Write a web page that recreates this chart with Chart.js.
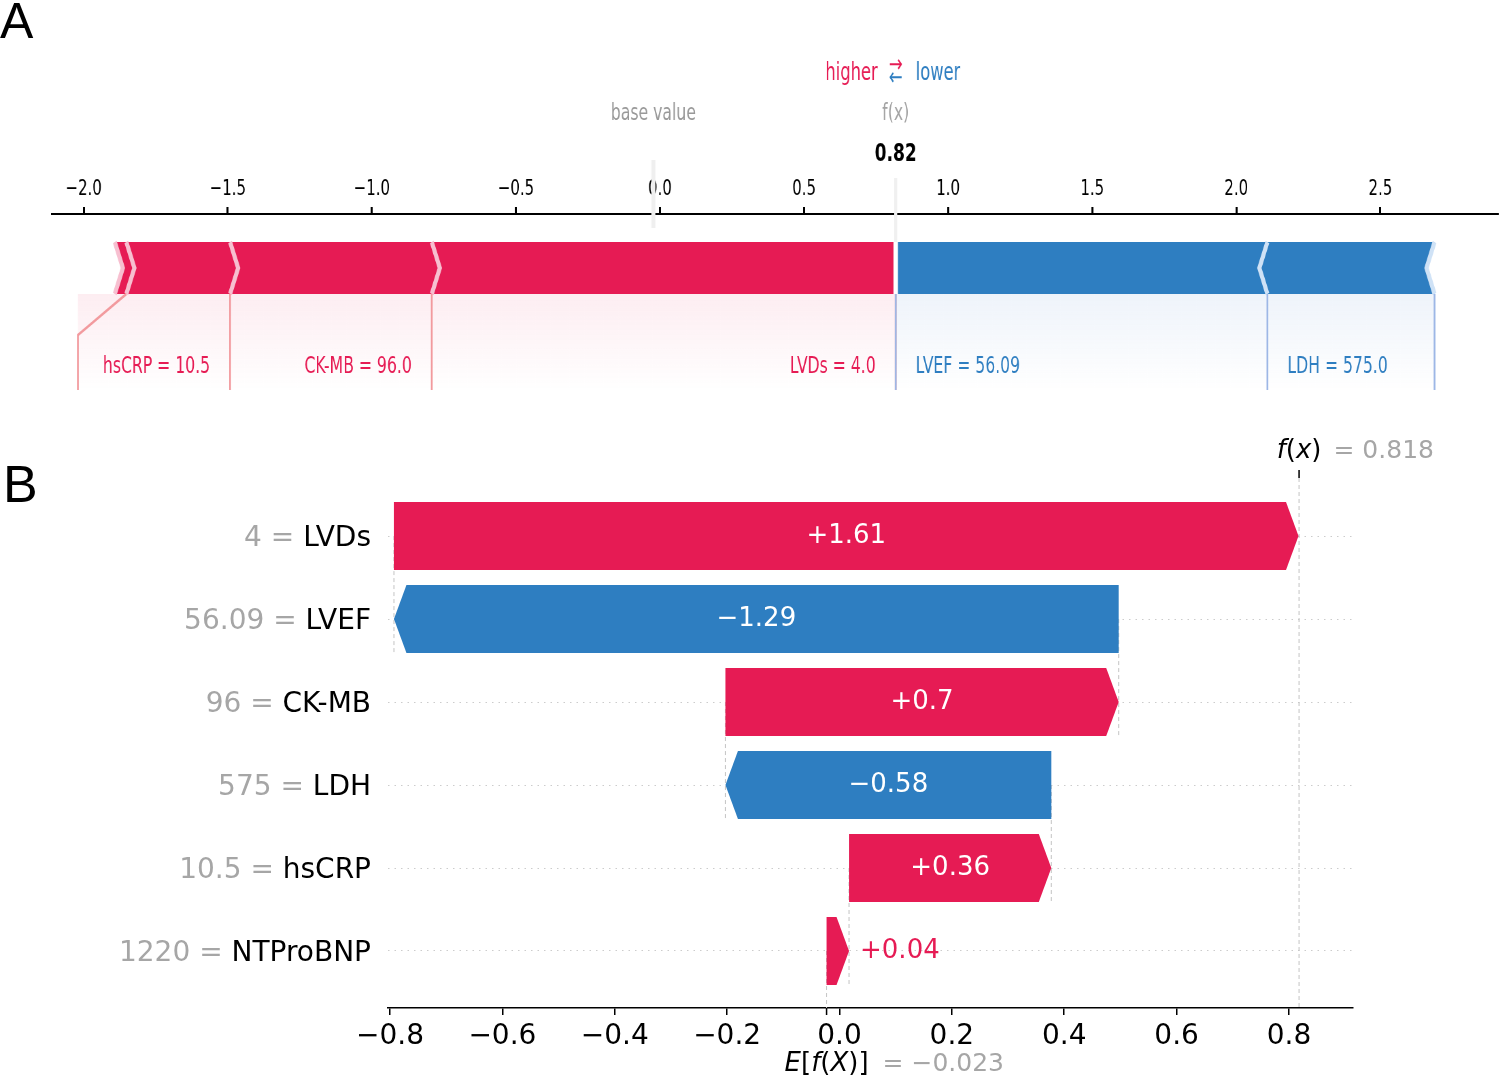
<!DOCTYPE html>
<html>
<head>
<meta charset="utf-8">
<script src="https://cdn.jsdelivr.net/npm/chart.js@4.4.1/dist/chart.umd.min.js"></script>
<style>
  body { margin: 0; background: #fff; width: 1500px; height: 1076px; overflow: hidden; position: relative; }
  #panelA { position: absolute; left: 0; top: 0; width: 2206px; height: 410px; transform: scaleX(0.68); transform-origin: 0 0; }
  #panelB { position: absolute; left: 0; top: 420px; width: 1500px; height: 656px; }
  .letter { position: absolute; font-family: "Liberation Sans", Arial, sans-serif; line-height: 1; color: #000; }
</style>
</head>
<body>
<div id="panelA"><canvas id="forceChart" width="2206" height="410"></canvas></div>
<div id="panelB"><canvas id="waterfallChart" width="1500" height="656"></canvas></div>
<div class="letter" style="left:0px;top:-4px;font-size:50px">A</div>
<div class="letter" style="left:3px;top:458px;font-size:52px">B</div>

<script>
// ---- data ----
const features = ['LVDs', 'LVEF', 'CK-MB', 'LDH', 'hsCRP', 'NTProBNP'];
const featureValues = ['4', '56.09', '96', '575', '10.5', '1220'];
const forceValueLabels = ['4.0', '56.09', '96.0', '575.0', '10.5', '1220.0'];
const shapValues = [1.61, -1.29, 0.7, -0.58, 0.36, 0.04];
const baseValue = -0.023;
const outputValue = 0.818;

const forceTicks = [-2.0, -1.5, -1.0, -0.5, 0.0, 0.5, 1.0, 1.5, 2.0, 2.5];
const forceRange = [-2.111, 2.906];
const waterfallTicks = [-0.8, -0.6, -0.4, -0.2, 0.0, 0.2, 0.4, 0.6, 0.8];
const waterfallRange = [-0.8036, 0.914];

// ---- style ----
const RED = '#e61b54';
const BLUE = '#2e7ec1';
const RED_SEP = '#f7bfd0';
const BLUE_SEP = '#cfe2f6';
const GRAY = '#a6a6a6';
const SQUEEZE = 0.68;          // panel A is drawn wide, then squeezed
const px = v => v / SQUEEZE;   // final pixels -> wide pixels
const FONT = '"DejaVu Sans"';
Chart.defaults.font.family = 'DejaVu Sans';

const minus = s => s.replace('-', '\u2212');
const fmtTick = v => minus(Number(v).toFixed(1));

function poly(ctx, pts) {
  ctx.beginPath();
  pts.forEach((p, k) => k ? ctx.lineTo(p[0], p[1]) : ctx.moveTo(p[0], p[1]));
  ctx.closePath();
}

function mathText(ctx, parts, cx, cy, size, color) {
  const fonts = parts.map(p => (p[1] ? 'italic ' : '') + size + 'px ' + FONT);
  let total = 0;
  const widths = parts.map((p, k) => { ctx.font = fonts[k]; const w = ctx.measureText(p[0]).width; total += w; return w; });
  let xx = cx - total / 2;
  ctx.fillStyle = color;
  ctx.textAlign = 'left';
  ctx.textBaseline = 'middle';
  parts.forEach((p, k) => { ctx.font = fonts[k]; ctx.fillText(p[0], xx, cy); xx += widths[k]; });
  return cx + total / 2;
}

// ---- panel A: force plot ----
const SEP_INDENT = 0.028;
const LABEL_MIN = 0.1;

const forcePlugin = {
  id: 'forceBars',
  afterDraw(chart) {
    const { ctx, scales: { x, y } } = chart;
    const X = v => x.getPixelForValue(v);
    const Y = v => y.getPixelForValue(v);
    const fx = X(outputValue);
    const barTop = 28, barBot = 80, barMid = 54, slant = 41, lineEnd = 176, textY = 153;

    const pos = [], neg = [];
    shapValues.forEach((v, i) => (v > 0 ? pos : neg).push(i));
    pos.sort((a, b) => shapValues[b] - shapValues[a]);
    neg.sort((a, b) => shapValues[a] - shapValues[b]);

    ctx.save();
    ctx.font = '23px ' + FONT;

    function layout(list, sign) {
      let pre = outputValue, preB = fx;
      return list.map(i => {
        const v = Math.abs(shapValues[i]);
        const item = { i, start: pre, end: pre - sign * v };
        pre = item.end;
        if (v >= LABEL_MIN) {
          const text = features[i] + ' = ' + forceValueLabels[i];
          const w = ctx.measureText(text).width;
          if (sign > 0) { item.tx = preB - px(20); item.bound = Math.min(X(item.end), item.tx - w - px(25)); }
          else { item.tx = preB + px(20); item.bound = Math.max(X(item.end), item.tx + w + px(25)); }
          item.text = text;
          preB = item.bound;
        }
        return item;
      });
    }

    const groups = [
      { items: layout(pos, 1), sign: 1, color: RED, sep: RED_SEP, line: '#f29a9e', fill: 'rgba(230,27,84,0.08)', fill0: 'rgba(230,27,84,0)' },
      { items: layout(neg, -1), sign: -1, color: BLUE, sep: BLUE_SEP, line: '#9db7e6', fill: 'rgba(46,110,200,0.08)', fill0: 'rgba(46,110,200,0)' }
    ];

    groups.forEach(g => {
      const bounds = g.items.filter(it => it.text).map(it => it.bound);
      const far = g.sign > 0 ? Math.min(...bounds) : Math.max(...bounds);
      // soft fill under the bars
      const grad = ctx.createLinearGradient(0, Y(barBot), 0, Y(lineEnd));
      grad.addColorStop(0, g.fill);
      grad.addColorStop(1, g.fill0);
      ctx.fillStyle = grad;
      ctx.fillRect(Math.min(far, fx), Y(barBot), Math.abs(fx - far), Y(lineEnd) - Y(barBot));

      // chevron bars
      g.items.forEach((it, k) => {
        const L = Math.min(it.start, it.end), R = Math.max(it.start, it.end);
        const ind = g.sign * SEP_INDENT;
        let pts;
        if (k === 0) {
          pts = g.sign > 0
            ? [[L, barTop], [R, barTop], [R, barBot], [L, barBot], [L + ind, barMid]]
            : [[R, barTop], [L, barTop], [L, barBot], [R, barBot], [R + ind, barMid]];
        } else {
          pts = [[L, barTop], [R, barTop], [R + ind * 0.9, barMid], [R, barBot], [L, barBot], [L + ind * 0.9, barMid]];
        }
        poly(ctx, pts.map(p => [X(p[0]), Y(p[1])]));
        ctx.fillStyle = g.color;
        ctx.fill();
      });
      g.items.forEach(it => {
        const sp = g.sign > 0 ? Math.min(it.start, it.end) : Math.max(it.start, it.end);
        const ind = g.sign * SEP_INDENT;
        ctx.beginPath();
        ctx.moveTo(X(sp), Y(barTop));
        ctx.lineTo(X(sp + ind), Y(barMid));
        ctx.lineTo(X(sp), Y(barBot));
        ctx.strokeStyle = g.sep;
        ctx.lineWidth = px(4);
        ctx.stroke();
      });

      // label leader lines and labels
      ctx.strokeStyle = g.line;
      ctx.lineWidth = px(1.8);
      ctx.beginPath();
      ctx.moveTo(fx, Y(barBot));
      ctx.lineTo(fx, Y(lineEnd));
      ctx.stroke();
      g.items.filter(it => it.text).forEach(it => {
        const bx = X(it.end);
        ctx.beginPath();
        ctx.moveTo(bx, Y(barBot));
        if (Math.abs(bx - it.bound) > 1) ctx.lineTo(it.bound, Y(barBot + slant));
        ctx.lineTo(it.bound, Y(lineEnd));
        ctx.stroke();
        ctx.fillStyle = g.color;
        ctx.font = '23px ' + FONT;
        ctx.textBaseline = 'middle';
        ctx.textAlign = g.sign > 0 ? 'right' : 'left';
        ctx.fillText(it.text, it.tx, Y(textY));
      });
    });

    // f(x) separator and base value marker
    ctx.strokeStyle = '#f0f0f0';
    ctx.lineWidth = px(3);
    ctx.beginPath(); ctx.moveTo(fx, Y(-36)); ctx.lineTo(fx, Y(barTop)); ctx.stroke();
    ctx.strokeStyle = '#ffffff';
    ctx.lineWidth = px(4.5);
    ctx.beginPath(); ctx.moveTo(fx, Y(barTop)); ctx.lineTo(fx, Y(barBot)); ctx.stroke();
    ctx.strokeStyle = '#efefef';
    ctx.lineWidth = px(4);
    ctx.beginPath(); ctx.moveTo(X(baseValue), Y(-54)); ctx.lineTo(X(baseValue), Y(14)); ctx.stroke();

    // header texts
    ctx.textBaseline = 'middle';
    ctx.textAlign = 'center';
    ctx.font = '23px ' + FONT;
    ctx.fillStyle = '#999999';
    ctx.fillText('base value', X(baseValue), Y(-100));
    ctx.fillStyle = '#a3a3a3';
    ctx.fillText('f(x)', fx, Y(-100));
    ctx.font = 'bold 25px ' + FONT;
    ctx.fillStyle = '#000';
    ctx.fillText(outputValue.toFixed(2), fx, Y(-60));
    ctx.font = '24px ' + FONT;
    ctx.textAlign = 'right';
    ctx.fillStyle = RED;
    ctx.fillText('higher', fx - px(18), Y(-140));
    ctx.textAlign = 'left';
    ctx.fillStyle = BLUE;
    ctx.fillText('lower', fx + px(20), Y(-140));
    ctx.textAlign = 'center';
    ctx.font = '24px ' + FONT;
    ctx.fillStyle = RED;
    ctx.fillText('\u2192', fx, Y(-148));
    ctx.fillStyle = BLUE;
    ctx.fillText('\u2190', fx, Y(-135));
    ctx.restore();
  }
};

new Chart(document.getElementById('forceChart'), {
  type: 'scatter',
  data: { datasets: [] },
  options: {
    responsive: false,
    animation: false,
    layout: { padding: { left: 76, right: 4, top: 170, bottom: 10 } },
    plugins: { legend: { display: false }, tooltip: { enabled: false } },
    scales: {
      x: {
        type: 'linear',
        position: 'top',
        min: forceRange[0],
        max: forceRange[1],
        afterBuildTicks: s => { s.ticks = forceTicks.map(v => ({ value: v })); },
        afterFit: s => { s.height = 44; },
        ticks: { callback: fmtTick, font: { size: 22 }, color: '#000', padding: 5, maxRotation: 0, autoSkip: false },
        grid: { drawOnChartArea: false, drawTicks: true, tickLength: 7, color: '#000', lineWidth: 3 },
        border: { display: true, color: '#000', width: 2 }
      },
      y: { display: false, min: 0, max: 186, reverse: true }
    }
  },
  plugins: [forcePlugin]
});

// ---- panel B: waterfall ----
const BAR_HALF = 0.41;
const HEAD_PX = 12.5;
const LABEL_SHIFT = 3;

const waterfallPlugin = {
  id: 'waterfallBars',
  afterDatasetsDraw(chart) {
    const { ctx, chartArea: area, scales: { x, y } } = chart;
    const X = v => x.getPixelForValue(v);
    const Y = v => y.getPixelForValue(v);
    const n = features.length;
    const starts = [], ends = [];
    let cum = baseValue;
    for (let i = n - 1; i >= 0; i--) { starts[i] = cum; cum += shapValues[i]; ends[i] = cum; }

    ctx.save();
    const seg = (x1, y1, x2, y2) => { ctx.beginPath(); ctx.moveTo(x1, y1); ctx.lineTo(x2, y2); ctx.stroke(); };
    ctx.strokeStyle = '#c4c4c4';
    ctx.lineWidth = 1;
    ctx.setLineDash([4, 3]);
    seg(X(outputValue), area.top, X(outputValue), area.bottom);
    seg(X(baseValue), Y(n - 1), X(baseValue), area.bottom);
    for (let i = 0; i < n - 1; i++) seg(X(starts[i]), Y(i), X(starts[i]), Y(i + 1 + BAR_HALF));
    ctx.setLineDash([]);

    for (let i = 0; i < n; i++) {
      const s = X(starts[i]), e = X(ends[i]);
      const dir = Math.sign(e - s), w = Math.abs(e - s);
      const hl = Math.min(HEAD_PX, w);
      const top = Y(i - BAR_HALF), bot = Y(i + BAR_HALF), mid = Y(i);
      const color = shapValues[i] > 0 ? RED : BLUE;
      poly(ctx, [[s, top], [e - dir * hl, top], [e, mid], [e - dir * hl, bot], [s, bot]]);
      ctx.fillStyle = color;
      ctx.fill();

      const label = (shapValues[i] > 0 ? '+' : '\u2212') + String(Math.abs(shapValues[i]));
      ctx.font = '26px ' + FONT;
      ctx.textBaseline = 'middle';
      const tw = ctx.measureText(label).width;
      if (tw + 12 < w - hl) {
        ctx.fillStyle = '#fff';
        ctx.textAlign = 'center';
        ctx.fillText(label, (s + e) / 2, mid);
      } else {
        ctx.fillStyle = color;
        ctx.textAlign = dir > 0 ? 'left' : 'right';
        ctx.fillText(label, e + dir * 11, mid);
      }
    }

    // f(x) marker on top, E[f(X)] marker at the bottom
    ctx.strokeStyle = '#000';
    ctx.lineWidth = 1.5;
    seg(X(outputValue), area.top - 8, X(outputValue), area.top);
    seg(X(baseValue), area.bottom, X(baseValue), area.bottom + 7);

    let right = mathText(ctx, [['f', true], ['(', false], ['x', true], [')', false]], X(outputValue), area.top - 27, 26, '#000');
    ctx.font = '25px ' + FONT;
    ctx.fillStyle = GRAY;
    ctx.fillText('= ' + outputValue.toFixed(3), right + 12, area.top - 27);

    right = mathText(ctx, [['E', true], ['[', false], ['f', true], ['(', false], ['X', true], [')]', false]], X(baseValue), area.bottom + 56, 26, '#000');
    ctx.font = '25px ' + FONT;
    ctx.fillStyle = GRAY;
    ctx.fillText('= ' + minus(baseValue.toFixed(3)), right + 14, area.bottom + 56);
    ctx.restore();
  },
  afterDraw(chart) {
    const { ctx, chartArea: area, scales: { y } } = chart;
    ctx.save();
    ctx.font = '28px ' + FONT;
    ctx.textBaseline = 'middle';
    ctx.textAlign = 'right';
    ctx.fillStyle = GRAY;
    features.forEach((name, i) => {
      const nameW = ctx.measureText(name).width;
      ctx.fillText(featureValues[i] + ' = ', area.left - 17 - nameW, y.getPixelForValue(i) + LABEL_SHIFT);
    });
    ctx.restore();
  }
};

new Chart(document.getElementById('waterfallChart'), {
  type: 'scatter',
  data: { datasets: [] },
  options: {
    responsive: false,
    animation: false,
    layout: { padding: { left: 0, right: 147, top: 58, bottom: 0 } },
    plugins: { legend: { display: false }, tooltip: { enabled: false } },
    scales: {
      x: {
        type: 'linear',
        position: 'bottom',
        min: waterfallRange[0],
        max: waterfallRange[1],
        afterBuildTicks: s => { s.ticks = waterfallTicks.map(v => ({ value: v })); },
        afterFit: s => { s.height = 68; },
        ticks: { callback: fmtTick, font: { size: 28 }, color: '#000', padding: 5, maxRotation: 0, autoSkip: false },
        grid: { drawOnChartArea: false, drawTicks: true, tickLength: 7, color: '#000', lineWidth: 1.5 },
        border: { display: true, color: '#000', width: 1.5 }
      },
      y: {
        type: 'linear',
        position: 'left',
        reverse: true,
        min: -0.7,
        max: 5.687,
        afterBuildTicks: s => { s.ticks = features.map((f, i) => ({ value: i })); },
        afterFit: s => { s.width = 388; },
        ticks: { callback: v => features[v], font: { size: 28 }, color: '#000', padding: 17, labelOffset: LABEL_SHIFT, autoSkip: false },
        grid: { color: '#cccccc', lineWidth: 1, drawTicks: false },
        border: { display: false, dash: [1.5, 5] }
      }
    }
  },
  plugins: [waterfallPlugin]
});
</script>
</body>
</html>
